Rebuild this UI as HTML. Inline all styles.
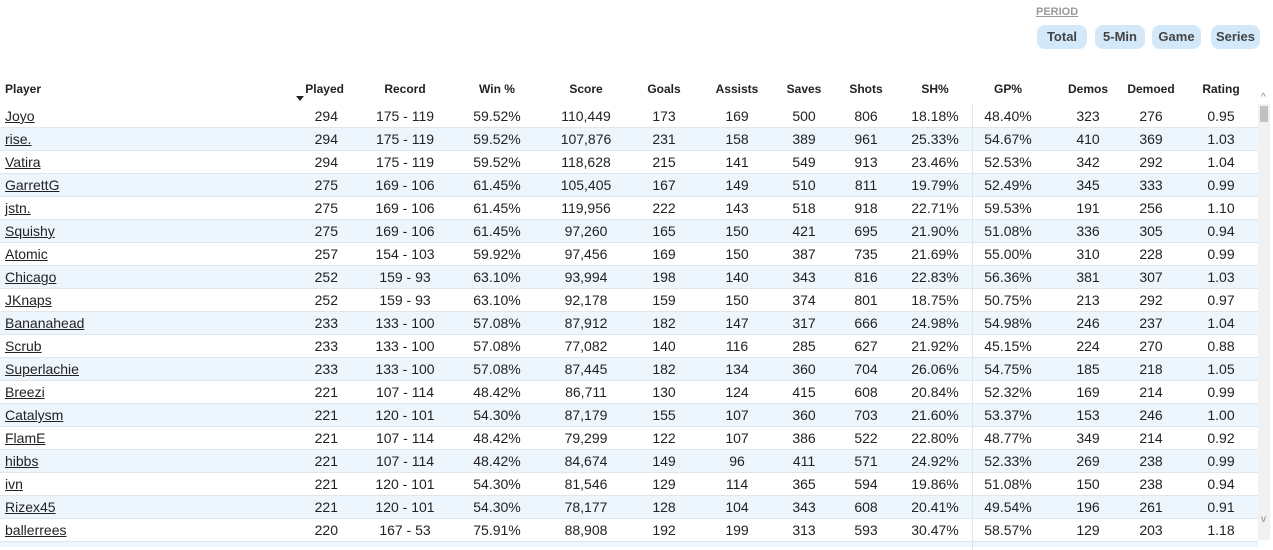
<!DOCTYPE html>
<html><head><meta charset="utf-8">
<style>
html,body{margin:0;width:1273px;height:550px;overflow:hidden}
body{background:#fff;font-family:"Liberation Sans",sans-serif;color:#222;position:relative}
.abs{position:absolute}
#period{left:1036px;top:6px;font-size:11px;font-weight:bold;color:#999;text-decoration:underline}
.btn{top:25px;height:24px;line-height:24px;background:#d3e9fa;border-radius:8px;font-size:13px;font-weight:bold;color:#444;text-align:center}
.hd{top:82px;font-size:12px;font-weight:bold;color:#222;white-space:nowrap}
.row{left:0;width:1258px;height:22px;border-bottom:1px solid #dfe6ec}
.row.alt{background:#eef6fd}
.cell{position:absolute;top:0;line-height:23px;font-size:14px;white-space:nowrap}
.name{left:5px;text-decoration:underline;color:#222}
#sb{left:1258px;top:104px;width:12px;height:436px;background:#f1f1f1}
#thumb{left:1260px;top:106px;width:8px;height:16px;background:#c1c1c1}
#divider{left:972px;top:105px;width:1px;height:445px;background:#dfe6ec}
</style></head><body>
<div id="period" class="abs">PERIOD</div>
<div class="abs btn" style="left:1037px;width:50px">Total</div>
<div class="abs btn" style="left:1095px;width:50px">5-Min</div>
<div class="abs btn" style="left:1152px;width:49px">Game</div>
<div class="abs btn" style="left:1211px;width:49px">Series</div>
<div id="table"></div>
<div id="sb" class="abs"></div>
<div id="thumb" class="abs"></div>
<div class="abs" style="left:1261px;top:92px;font-size:10px;color:#888">^</div>
<div class="abs" style="left:1261px;top:514px;font-size:10px;color:#888">v</div>
<div class="abs" style="left:296px;top:96px;width:0;height:0;border-left:4px solid transparent;border-right:4px solid transparent;border-top:5px solid #222"></div>
<script>
const headers=["Player","Played","Record","Win %","Score","Goals","Assists","Saves","Shots","SH%","GP%","Demos","Demoed","Rating"];
const players=["Joyo","rise.","Vatira","GarrettG","jstn.","Squishy","Atomic","Chicago","JKnaps","Bananahead","Scrub","Superlachie","Breezi","Catalysm","FlamE","hibbs","ivn","Rizex45","ballerrees"];
const played=[294,294,294,275,275,275,257,252,252,233,233,233,221,221,221,221,221,221,220];
const records=["175 - 119","175 - 119","175 - 119","169 - 106","169 - 106","169 - 106","154 - 103","159 - 93","159 - 93","133 - 100","133 - 100","133 - 100","107 - 114","120 - 101","107 - 114","107 - 114","120 - 101","120 - 101","167 - 53"];
const winPct=["59.52%","59.52%","59.52%","61.45%","61.45%","61.45%","59.92%","63.10%","63.10%","57.08%","57.08%","57.08%","48.42%","54.30%","48.42%","48.42%","54.30%","54.30%","75.91%"];
const scores=["110,449","107,876","118,628","105,405","119,956","97,260","97,456","93,994","92,178","87,912","77,082","87,445","86,711","87,179","79,299","84,674","81,546","78,177","88,908"];
const goals=[173,231,215,167,222,165,169,198,159,182,140,182,130,155,122,149,129,128,192];
const assists=[169,158,141,149,143,150,150,140,150,147,116,134,124,107,107,96,114,104,199];
const saves=[500,389,549,510,518,421,387,343,374,317,285,360,415,360,386,411,365,343,313];
const shots=[806,961,913,811,918,695,735,816,801,666,627,704,608,703,522,571,594,608,593];
const shPct=["18.18%","25.33%","23.46%","19.79%","22.71%","21.90%","21.69%","22.83%","18.75%","24.98%","21.92%","26.06%","20.84%","21.60%","22.80%","24.92%","19.86%","20.41%","30.47%"];
const gpPct=["48.40%","54.67%","52.53%","52.49%","59.53%","51.08%","55.00%","56.36%","50.75%","54.98%","45.15%","54.75%","52.32%","53.37%","48.77%","52.33%","51.08%","49.54%","58.57%"];
const demos=[323,410,342,345,191,336,310,381,213,246,224,185,169,153,349,269,150,196,129];
const demoed=[276,369,292,333,256,305,228,307,292,237,270,218,214,246,214,238,238,261,203];
const ratings=["0.95","1.03","1.04","0.99","1.10","0.94","0.99","1.03","0.97","1.04","0.88","1.05","0.99","1.00","0.92","0.99","0.94","0.91","1.18"];
const cols=[players,played,records,winPct,scores,goals,assists,saves,shots,shPct,gpPct,demos,demoed,ratings];
const centers=[0,0,405,497,586,664,737,804,866,935,1008,1088,1151,1221];
const tbl=document.getElementById('table');
headers.forEach((h,i)=>{
  const d=document.createElement('div');
  d.className='abs hd';
  d.textContent=h;
  
  
  if(i===0){d.style.left='5px';}
  else if(i===1){d.style.left='244px';d.style.width='100px';d.style.textAlign='right';}
  else{d.style.left=(centers[i]-50)+'px';d.style.width='100px';d.style.textAlign='center';}
  tbl.appendChild(d);
});
for(let r=0;r<players.length+1;r++){
  const row=document.createElement('div');
  row.className='abs row'+(r%2===1?' alt':'');
  row.style.top=(105+r*23)+'px';
  if(r>=players.length){row.style.height='5px';row.style.borderBottom='none';}
  
  
  tbl.appendChild(row);
  if(r>=players.length)continue;
  cols.forEach((c,i)=>{
    const s=document.createElement('span');
    s.className='cell'+(i===0?' name':'');
    s.textContent=c[r];
    if(i===0){
      
      
    }else{
      
      
      if(i===1){s.style.left='238px';s.style.width='100px';s.style.textAlign='right';}
      else{s.style.left=(centers[i]-50)+'px';s.style.width='100px';s.style.textAlign='center';}
    }
    row.appendChild(s);
  });
}
</script>
<div id="divider" class="abs"></div>
</body></html>
